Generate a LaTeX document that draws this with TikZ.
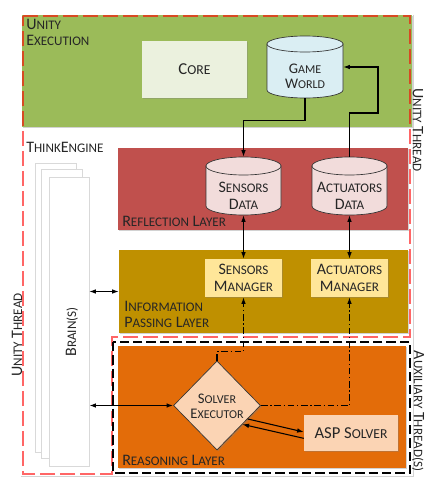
\documentclass[tikz,border=0pt]{standalone}
\usepackage{fontspec}
\setmainfont{Carlito}
\usetikzlibrary{arrows.meta,shapes.geometric,shadows,calc}
\newcommand\Cp[2]{#1\scalebox{0.82}{#2}}
\newcommand\pxu{0.75pt}
\definecolor{unigreen}{HTML}{9BBB59}
\definecolor{reflred}{HTML}{C0504D}
\definecolor{ipgold}{HTML}{BF9000}
\definecolor{reasor}{HTML}{E36C09}
\definecolor{corefill}{HTML}{EBF1DE}
\definecolor{gwfill}{HTML}{DAEEF3}
\definecolor{sdfill}{HTML}{F2DCDB}
\definecolor{mgrfill}{HTML}{FFE699}
\definecolor{peach}{HTML}{FBD4B4}
\newcommand\mycyl[6]{%
  \pgfmathsetmacro\cxa{(#1+#3)/2}%
  \pgfmathsetmacro\rxa{(#3-#1)/2}%
  \pgfmathsetmacro\ta{#2+#5}%
  \pgfmathsetmacro\ba{#4-#5}%
  \pgfmathsetmacro\kx{0.5523*\rxa}%
  \pgfmathsetmacro\ky{0.5523*#5}%
  \filldraw[fill=#6, draw=black!80, line width=0.5pt] (#1,\ta) -- (#1,\ba) .. controls (#1,\ba+\ky) and (\cxa-\kx,#4) .. (\cxa,#4) .. controls (\cxa+\kx,#4) and (#3,\ba+\ky) .. (#3,\ba) -- (#3,\ta) -- cycle;
  \filldraw[fill=#6, draw=black!80, line width=0.5pt] (\cxa,\ta) ellipse [x radius=\rxa, y radius=#5];
}
\begin{document}
\begin{tikzpicture}[x=0.75pt,y=-0.75pt,
  every node/.style={font=\fontsize{12}{13}\selectfont, text=black!85},
  shd/.style={drop shadow={shadow xshift=1pt, shadow yshift=-1pt, opacity=.35}},
  layer/.style={rectangle, draw=none, inner sep=0, shd},
  box/.style={rectangle, draw=none, inner sep=0, shd, align=center},
  txt/.style={inner sep=0, align=center},
  lbl/.style={inner sep=0, anchor=west, align=left},
  redframe/.style={draw=red, opacity=0.6, line width=1.2pt, dash pattern=on 11pt off 4pt},
  blkframe/.style={draw=black, line width=0.9pt, dash pattern=on 7pt off 3pt},
  conn/.style={draw=black, line width=0.8pt},
  arr/.style={conn, -{Latex[length=5pt,width=3.5pt]}},
  darr/.style={conn, {Latex[length=5pt,width=3.5pt]}-{Latex[length=5pt,width=3.5pt]}},
  dd/.style={dash pattern=on 5pt off 2pt on 1pt off 2pt}
]
\useasboundingbox (0,0) rectangle (432,489);

% white ThinkEngine panel
\node[layer, fill=white, minimum width=393*\pxu, minimum height=462*\pxu] (panel) at (216.5,245) {};
% layers
\node[layer, fill=unigreen, minimum width=390*\pxu, minimum height=112*\pxu] (green) at (217,71) {};
\node[layer, fill=reflred, minimum width=290*\pxu, minimum height=82*\pxu] (refl) at (263,189) {};
\node[layer, fill=ipgold, minimum width=289*\pxu, minimum height=83*\pxu] (ipl) at (263.5,291.5) {};
\node[layer, fill=reasor, minimum width=288*\pxu, minimum height=122*\pxu] (reas) at (262,407) {};

% layer labels
\node[lbl] (lunity) at (26,32) {\Cp{U}{NITY}\\[-1pt]\Cp{E}{XECUTION}};
\node[lbl] (lthink) at (26,147) {\Cp{T}{HINK}\Cp{E}{NGINE}};
\node[lbl] (lrefl) at (122,221) {\Cp{R}{EFLECTION} \Cp{L}{AYER}};
\node[lbl] (lipl) at (124,314) {\Cp{I}{NFORMATION}\\[-1pt]\Cp{P}{ASSING} \Cp{L}{AYER}};
\node[lbl] (lreas) at (122,460) {\Cp{R}{EASONING} \Cp{L}{AYER}};

% core
\node[box, fill=corefill, minimum width=105*\pxu, minimum height=57*\pxu, font=\fontsize{12.5}{13}\selectfont] (core) at (194.5,69.5) {\Cp{C}{ORE}};

% cylinders
\mycyl{267}{36}{343}{98}{8}{gwfill}
\node[txt, minimum width=76*\pxu, minimum height=62*\pxu] (gw) at (305,67) {};
\node[txt, font=\fontsize{11}{11.5}\selectfont] (gwt) at (305,76) {\Cp{G}{AME}\\\Cp{W}{ORLD}};
\mycyl{206}{157}{281}{215}{9}{sdfill}
\node[txt, minimum width=75*\pxu, minimum height=58*\pxu] (sd) at (243.5,186) {};
\node[txt] (sdt) at (243.5,196) {\Cp{S}{ENSORS}\\\Cp{D}{ATA}};
\mycyl{312}{157}{387}{215}{9}{sdfill}
\node[txt, minimum width=75*\pxu, minimum height=58*\pxu] (ad) at (349.5,186) {};
\node[txt] (adt) at (349.5,196) {\Cp{A}{CTUATORS}\\\Cp{D}{ATA}};

% managers
\node[box, fill=mgrfill, minimum width=77*\pxu, minimum height=38*\pxu] (sm) at (243.5,278) {\Cp{S}{ENSORS}\\\Cp{M}{ANAGER}};
\node[box, fill=mgrfill, minimum width=77*\pxu, minimum height=38*\pxu] (am) at (349.5,278) {\Cp{A}{CTUATORS}\\\Cp{M}{ANAGER}};

% solver executor
\node[diamond, aspect=1, draw=black!80, line width=0.5pt, fill=peach, inner sep=0, minimum width=87*\pxu, minimum height=89*\pxu, shd] (se) at (217,405.5) {};
\node[txt, font=\fontsize{11}{11.5}\selectfont] (set) at (217,406) {\Cp{S}{OLVER}\\\Cp{E}{XECUTOR}};
\node[box, fill=peach, minimum width=94*\pxu, minimum height=36*\pxu, font=\fontsize{12.5}{13}\selectfont] (asp) at (351,433) {ASP \Cp{S}{OLVER}};

% brains
\node[layer, draw=black!15, fill=white, minimum width=41*\pxu, minimum height=289*\pxu] (b3) at (55.5,307.5) {};
\node[layer, draw=black!15, fill=white, minimum width=41*\pxu, minimum height=289*\pxu] (b2) at (61.5,313.5) {};
\node[layer, draw=black!15, fill=white, minimum width=40*\pxu, minimum height=289*\pxu] (brain) at (69,321.5) {};
\node[txt, rotate=90] (braint) at (72,332) {\Cp{B}{RAIN(S)}};

% frames
\draw[redframe] (23,16) -- (410,16) -- (410,337) -- (112,337) -- (112,474) -- (23,474) -- cycle;
\draw[blkframe] (113,342) rectangle (410,473);
\node[txt, rotate=90] (lut) at (17,335) {\Cp{U}{NITY} \Cp{T}{HREAD}};
\node[txt, rotate=-90] (rut) at (418,130) {\Cp{U}{NITY} \Cp{T}{HREAD}};
\node[txt, rotate=-90] (aux) at (418,411) {\Cp{A}{UXILIARY} \Cp{T}{HREAD(S)}};

% connectors
\coordinate (c1) at (378,113);
\draw[arr] (gw.south) -- ++(0,22) -| (sd.north);
\draw[arr] (ad.north) |- (c1) |- (gw.east);
\draw[darr] (sd.south) -- (sm.north);
\draw[darr] (ad.south) -- (am.north);
\draw[darr] (brain.east |- ipl.west) -- (ipl.west);
\draw[darr, line width=1.3pt] (brain.east |- se.west) -- (se.west);
\draw[arr, dd] (se.north) -- ++(0,-9) -| (sm.south);
\draw[arr, dd] (se.east) -| (am.south);
\draw[arr] ($(se.east)!0.3!(se.south)$) -- ([yshift=0.75pt]asp.west);
\draw[arr] ([yshift=-4pt]asp.west) -- ($(se.east)!0.42!(se.south)$);
\end{tikzpicture}
\end{document}
